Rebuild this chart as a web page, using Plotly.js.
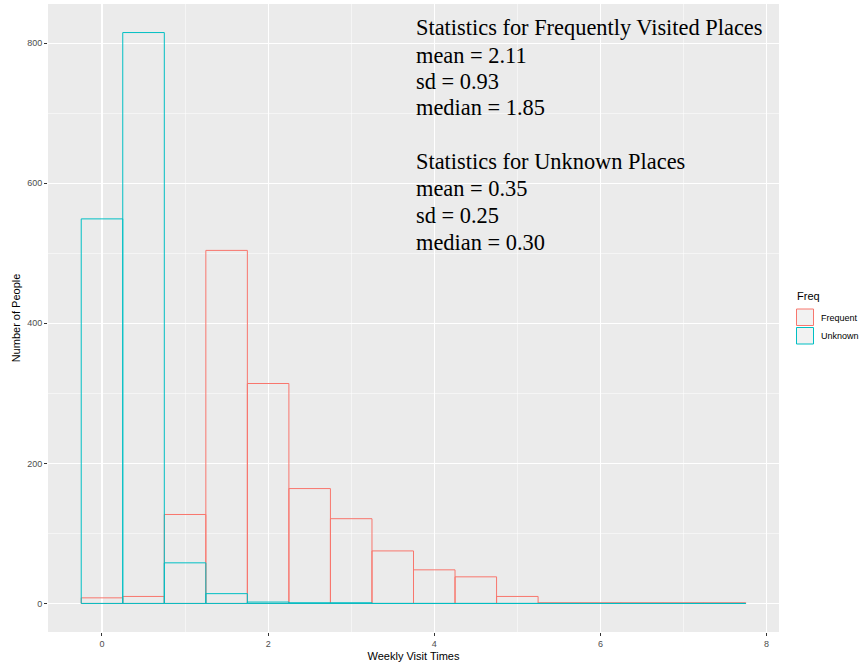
<!DOCTYPE html>
<html>
<head>
<meta charset="utf-8">
<script src="https://cdn.plot.ly/plotly-3.0.1.min.js"></script>
<style>html,body{margin:0;padding:0;background:#fff;}#chart{width:863px;height:663px;}</style>
</head>
<body>
<div id="chart"></div>
<script>
// Data (bin centres, bin width 0.5)
const binCenters = [0, 0.5, 1, 1.5, 2, 2.5, 3, 3.5, 4, 4.5, 5, 5.5, 6, 6.5, 7, 7.5];
const frequentCounts = [8, 10, 127, 504, 314, 164, 121, 75, 48, 38, 10, 1, 1, 1, 1, 1];
const unknownCounts = [549, 815, 58, 14, 2, 1, 1, 0, 0, 0, 0, 0, 0, 0, 0, 0];
const seriesNames = ["Frequent", "Unknown"];
const xTickVals = [0, 2, 4, 6, 8];
const yTickVals = [0, 200, 400, 600, 800];
const statsLines = [
  "Statistics for Frequently Visited Places",
  "mean = 2.11",
  "sd = 0.93",
  "median = 1.85",
  "Statistics for Unknown Places",
  "mean = 0.35",
  "sd = 0.25",
  "median = 0.30"
];

const W = 863, H = 663;
const M = {l: 48, r: 84, t: 4, b: 31};
const PW = W - M.l - M.r, PH = H - M.t - M.b;
const px2x = p => (p - M.l) / PW;
const py2y = p => (H - M.b - p) / PH;

const red = "#F8766D", cyan = "#00BFC4";

function barTrace(name, ys, color) {
  return {
    type: "bar", name: name, x: binCenters, y: ys, width: 0.5,
    marker: {color: "rgba(0,0,0,0)", line: {color: color, width: 1}},
    showlegend: false, hoverinfo: "x+y"
  };
}

const data = [
  barTrace(seriesNames[0], frequentCounts, red),
  barTrace(seriesNames[1], unknownCounts, cyan)
];

const statY = [28, 55, 82, 108, 161, 188, 215, 242];
const annotations = statsLines.map((t, i) => ({
  text: t, xref: "paper", yref: "paper", x: px2x(414), y: py2y(statY[i]),
  xanchor: "left", yanchor: "middle", showarrow: false,
  font: {family: "Liberation Serif, Times New Roman, serif", size: 22.4, color: "#000"}
}));

// legend (manual, ggplot style)
annotations.push({text: "Freq", xref: "paper", yref: "paper", x: px2x(795), y: py2y(296),
  xanchor: "left", yanchor: "middle", showarrow: false,
  font: {family: "Liberation Sans, Arial, sans-serif", size: 11, color: "#000"}});
annotations.push({text: seriesNames[0], xref: "paper", yref: "paper", x: px2x(819), y: py2y(317.5),
  xanchor: "left", yanchor: "middle", showarrow: false,
  font: {family: "Liberation Sans, Arial, sans-serif", size: 9, color: "#000"}});
annotations.push({text: seriesNames[1], xref: "paper", yref: "paper", x: px2x(819), y: py2y(336),
  xanchor: "left", yanchor: "middle", showarrow: false,
  font: {family: "Liberation Sans, Arial, sans-serif", size: 9, color: "#000"}});

const shapes = [
  {type: "rect", xref: "paper", yref: "paper", x0: px2x(796.5), x1: px2x(813.5), y0: py2y(309), y1: py2y(325.5),
   fillcolor: "#F2F2F2", line: {color: red, width: 1}},
  {type: "rect", xref: "paper", yref: "paper", x0: px2x(796.5), x1: px2x(813.5), y0: py2y(327.5), y1: py2y(344),
   fillcolor: "#F2F2F2", line: {color: cyan, width: 1}}
];

const layout = {
  width: W, height: H,
  margin: M,
  paper_bgcolor: "#FFFFFF", plot_bgcolor: "#EBEBEB",
  barmode: "overlay",
  showlegend: false,
  font: {family: "Liberation Sans, Arial, sans-serif"},
  xaxis: {
    range: [-0.65, 8.15], tickvals: xTickVals, ticktext: xTickVals.map(String),
    showgrid: true, gridcolor: "#FFFFFF", gridwidth: 1.1, zeroline: false,
    ticks: "outside", ticklen: 3, tickcolor: "#333333", tickwidth: 1,
    tickfont: {size: 9, color: "#4D4D4D"}, showline: false,
    minor: {dtick: 1, tick0: 1, showgrid: true, gridcolor: "#FFFFFF", gridwidth: 0.5, ticks: ""},
    title: {text: "Weekly Visit Times", font: {size: 11, color: "#000"}, standoff: 4}
  },
  yaxis: {
    range: [-40.75, 855.75], tickvals: yTickVals, ticktext: yTickVals.map(String),
    showgrid: true, gridcolor: "#FFFFFF", gridwidth: 1.1, zeroline: false,
    ticks: "outside", ticklen: 3, tickcolor: "#333333", tickwidth: 1,
    tickfont: {size: 9, color: "#4D4D4D"}, showline: false,
    minor: {dtick: 200, tick0: 100, showgrid: true, gridcolor: "#FFFFFF", gridwidth: 0.5, ticks: ""},
    title: {text: "Number of People", font: {size: 11, color: "#000"}, standoff: 4}
  },
  annotations: annotations,
  shapes: shapes
};

Plotly.newPlot("chart", data, layout, {displayModeBar: false, staticPlot: true});
</script>
</body>
</html>
